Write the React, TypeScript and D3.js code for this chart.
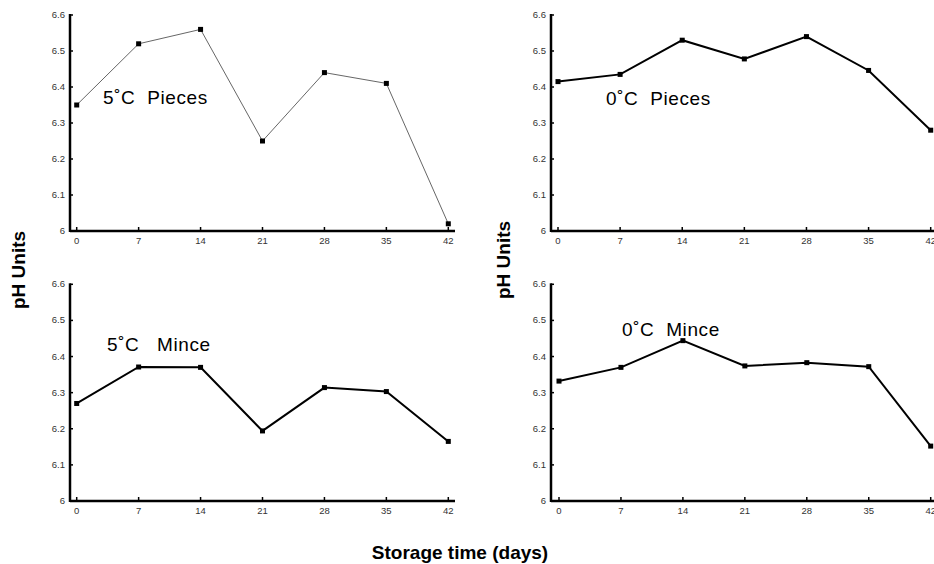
import React, { useRef, useEffect } from "react";
import * as d3 from "d3";

const days = [0, 7, 14, 21, 28, 35, 42];
const yTicks = [6, 6.1, 6.2, 6.3, 6.4, 6.5, 6.6];

const pieces5 = [6.35, 6.52, 6.56, 6.25, 6.44, 6.41, 6.02];
const pieces0 = [6.415, 6.435, 6.53, 6.478, 6.54, 6.446, 6.28];
const mince5 = [6.27, 6.371, 6.37, 6.194, 6.314, 6.303, 6.165];
const mince0 = [6.332, 6.37, 6.444, 6.374, 6.383, 6.372, 6.152];

const panels = [
  { label: "5˚C  Pieces", values: pieces5, ax: 70, x0: 76.7, x1: 448.3, top: 15, bottom: 231, xEnd: 455, lx: 103, ly: 104, thin: true },
  { label: "0˚C  Pieces", values: pieces0, ax: 551, x0: 558, x1: 930.7, top: 15, bottom: 231, xEnd: 936, lx: 606, ly: 105, thin: false },
  { label: "5˚C   Mince", values: mince5, ax: 70, x0: 76.7, x1: 448.3, top: 284.3, bottom: 501, xEnd: 455, lx: 107, ly: 351, thin: false },
  { label: "0˚C  Mince", values: mince0, ax: 551, x0: 559, x1: 930.7, top: 284.3, bottom: 501, xEnd: 936, lx: 622, ly: 336, thin: false },
];

const font = "Liberation Sans, Arial, sans-serif";

export default function App() {
  const ref = useRef<SVGSVGElement>(null);

  useEffect(() => {
    const svg = d3.select(ref.current);
    svg.selectAll("*").remove();

    panels.forEach((p) => {
      const x = d3.scaleLinear().domain([0, 42]).range([p.x0, p.x1]);
      const y = d3.scaleLinear().domain([6, 6.6]).range([p.bottom, p.top]);
      const g = svg.append("g");

      // axis lines
      g.append("line")
        .attr("x1", p.ax).attr("x2", p.ax)
        .attr("y1", p.top - 1).attr("y2", p.bottom + 1)
        .attr("stroke", "#000").attr("stroke-width", 2.5);
      g.append("line")
        .attr("x1", p.ax).attr("x2", p.xEnd)
        .attr("y1", p.bottom).attr("y2", p.bottom)
        .attr("stroke", "#000").attr("stroke-width", 2.5);

      // y ticks (inward)
      g.selectAll("line.yt").data(yTicks).join("line")
        .attr("x1", p.ax).attr("x2", p.ax + 3)
        .attr("y1", (d) => y(d)).attr("y2", (d) => y(d))
        .attr("stroke", "#000").attr("stroke-width", 1.5);
      g.selectAll("text.yl").data(yTicks).join("text")
        .attr("x", p.ax - 5).attr("y", (d) => y(d) + 3)
        .attr("text-anchor", "end")
        .attr("font-family", font)
        .attr("font-size", 9.5).attr("fill", "#333")
        .text((d) => (d === 6 ? "6" : d.toFixed(1)));

      // x ticks (inward)
      g.selectAll("line.xt").data(days).join("line")
        .attr("x1", (d) => x(d)).attr("x2", (d) => x(d))
        .attr("y1", p.bottom).attr("y2", p.bottom - 4)
        .attr("stroke", "#000").attr("stroke-width", 1.5);
      g.selectAll("text.xl").data(days).join("text")
        .attr("x", (d) => x(d)).attr("y", p.bottom + 13)
        .attr("text-anchor", "middle")
        .attr("font-family", font)
        .attr("font-size", 9.5).attr("fill", "#333")
        .text((d) => d);

      const line = d3.line<number>().x((_, i) => x(days[i])).y((d) => y(d));
      g.append("path")
        .datum(p.values)
        .attr("d", line)
        .attr("fill", "none")
        .attr("stroke", p.thin ? "#555" : "#000")
        .attr("stroke-width", p.thin ? 0.9 : 2);

      g.selectAll("rect").data(p.values).join("rect")
        .attr("x", (_, i) => x(days[i]) - 2.5)
        .attr("y", (d) => y(d) - 2.5)
        .attr("width", 5).attr("height", 5)
        .attr("fill", "#000");

      g.append("text")
        .attr("x", p.lx).attr("y", p.ly)
        .attr("font-family", font)
        .attr("font-size", 19)
        .attr("letter-spacing", 0.6)
        .attr("fill", "#000")
        .style("white-space", "pre")
        .text(p.label);
    });

    [
      { cx: 25, cy: 270 },
      { cx: 510, cy: 260 },
    ].forEach((a) => {
      svg.append("text")
        .attr("transform", `translate(${a.cx},${a.cy}) rotate(-90)`)
        .attr("text-anchor", "middle")
        .attr("font-family", font)
        .attr("font-size", 19).attr("font-weight", "bold")
        .text("pH Units");
    });

    svg.append("text")
      .attr("x", 460).attr("y", 559)
      .attr("text-anchor", "middle")
      .attr("font-family", font)
      .attr("font-size", 19).attr("font-weight", "bold")
      .text("Storage time (days)");
  }, []);

  return (
    <svg
      ref={ref}
      width={934}
      height={564}
      style={{ position: "absolute", left: 0, top: 0, background: "#fff" }}
    />
  );
}
